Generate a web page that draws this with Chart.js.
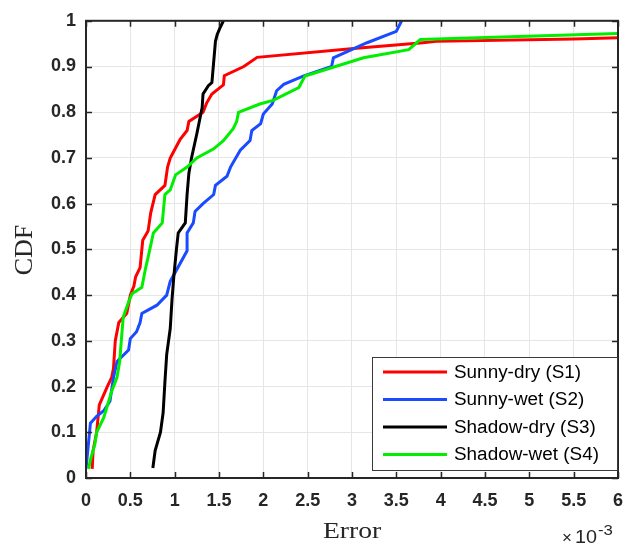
<!DOCTYPE html>
<html>
<head>
<meta charset="utf-8">
<script src="https://cdn.jsdelivr.net/npm/chart.js@4/dist/chart.umd.min.js"></script>
<style>
html,body{margin:0;padding:0;background:#fff;}
#wrap{width:635px;height:545px;}
</style>
</head>
<body>
<div id="wrap"><canvas id="c" width="635" height="545"></canvas></div>
<script>
// ---- data (x in units of 1e-3) ----
const seriesNames = ['Sunny-dry (S1)', 'Sunny-wet (S2)', 'Shadow-dry (S3)', 'Shadow-wet (S4)'];
const seriesColors = ['#ff0000', '#1a4bff', '#000000', '#00ee00'];

const s1x = [0.07,0.08,0.12,0.15,0.24,0.29,0.31,0.33,0.37,0.46,0.50,0.54,0.56,0.61,0.64,0.70,0.73,0.78,0.89,0.92,0.95,1.06,1.14,1.16,1.32,1.36,1.42,1.55,1.56,1.78,1.93,3.05,3.80,3.95,5.50,6.00];
const s1y = [0.02,0.06,0.10,0.16,0.20,0.22,0.24,0.30,0.34,0.36,0.40,0.42,0.44,0.46,0.52,0.54,0.58,0.62,0.64,0.68,0.70,0.74,0.76,0.78,0.80,0.82,0.84,0.86,0.88,0.90,0.92,0.94,0.952,0.955,0.960,0.963];

const s2x = [0.00,0.02,0.05,0.12,0.20,0.27,0.31,0.35,0.48,0.50,0.57,0.61,0.63,0.80,0.91,0.95,1.14,1.14,1.21,1.23,1.32,1.44,1.46,1.59,1.63,1.74,1.85,1.87,1.97,2.00,2.10,2.15,2.23,2.45,2.77,2.79,3.17,3.50,3.56];
const s2y = [0.02,0.06,0.12,0.135,0.147,0.168,0.22,0.255,0.28,0.305,0.32,0.34,0.36,0.378,0.40,0.43,0.497,0.536,0.558,0.583,0.60,0.62,0.64,0.66,0.68,0.717,0.738,0.76,0.775,0.796,0.818,0.847,0.861,0.879,0.90,0.919,0.952,0.977,1.00];

const s3x = [0.754,0.78,0.84,0.87,0.89,0.91,0.95,0.97,0.99,1.02,1.04,1.12,1.14,1.16,1.19,1.25,1.31,1.32,1.38,1.42,1.46,1.48,1.51,1.55];
const s3y = [0.022,0.06,0.10,0.143,0.21,0.27,0.327,0.39,0.44,0.50,0.536,0.558,0.62,0.666,0.70,0.753,0.81,0.84,0.858,0.865,0.955,0.97,0.984,1.00];

const s4x = [0.03,0.05,0.10,0.12,0.20,0.29,0.35,0.38,0.40,0.42,0.48,0.52,0.63,0.67,0.72,0.76,0.86,0.89,0.95,1.01,1.14,1.25,1.44,1.55,1.66,1.70,1.72,1.96,2.11,2.40,2.47,3.13,3.64,3.77,6.00];
const s4y = [0.02,0.04,0.074,0.10,0.132,0.19,0.22,0.255,0.305,0.352,0.385,0.403,0.417,0.457,0.50,0.536,0.558,0.62,0.63,0.663,0.68,0.70,0.72,0.738,0.764,0.78,0.80,0.818,0.826,0.854,0.879,0.919,0.937,0.959,0.972];

const xTicks = [0,0.5,1,1.5,2,2.5,3,3.5,4,4.5,5,5.5,6];
const xTickLabels = ['0','0.5','1','1.5','2','2.5','3','3.5','4','4.5','5','5.5','6'];
const yTicks = [0,0.1,0.2,0.3,0.4,0.5,0.6,0.7,0.8,0.9,1];
const yTickLabels = ['0','0.1','0.2','0.3','0.4','0.5','0.6','0.7','0.8','0.9','1'];
const xTitle = 'Error';
const yTitle = 'CDF';
const xExpTimes = '\u00d7';
const xExpBase = '10';
const xExp = '-3';

// ---- build ----
const allX = [s1x, s2x, s3x, s4x];
const allY = [s1y, s2y, s3y, s4y];
const datasets = seriesNames.map((name, i) => ({
  label: name,
  data: allX[i].map((x, k) => ({x: x, y: allY[i][k]})),
  borderColor: seriesColors[i],
  backgroundColor: seriesColors[i],
  borderWidth: 3,
  pointRadius: 0,
  showLine: true,
  tension: 0,
  fill: false,
  order: 3 - i
}));

const AXC = '#262626';
const tickFont = {family: '"Liberation Sans", Arial, sans-serif', size: 18, weight: 'bold'};

const decor = {
  id: 'decor',
  afterDatasetsDraw(chart) {
    const ctx = chart.ctx;
    const a = chart.chartArea;
    const xs = chart.scales.x, ys = chart.scales.y;
    ctx.save();
    // inner tick marks
    ctx.strokeStyle = AXC;
    ctx.lineWidth = 1.5;
    const tl = 6;
    ctx.beginPath();
    xTicks.forEach(v => {
      const px = Math.round(xs.getPixelForValue(v)) + 0.5;
      ctx.moveTo(px, a.bottom); ctx.lineTo(px, a.bottom - tl);
      ctx.moveTo(px, a.top); ctx.lineTo(px, a.top + tl);
    });
    yTicks.forEach(v => {
      const py = Math.round(ys.getPixelForValue(v)) + 0.5;
      ctx.moveTo(a.left, py); ctx.lineTo(a.left + tl, py);
      ctx.moveTo(a.right, py); ctx.lineTo(a.right - tl, py);
    });
    ctx.stroke();
    // box
    ctx.lineWidth = 2;
    ctx.strokeRect(a.left, a.top, a.right - a.left, a.bottom - a.top);

    // legend
    const lx0 = 372, ly0 = 357, lw = 245, lh = 113;
    ctx.fillStyle = '#ffffff';
    ctx.fillRect(lx0, ly0, lw, lh);
    ctx.strokeStyle = '#3a3a3a';
    ctx.lineWidth = 1;
    ctx.strokeRect(lx0 + 0.5, ly0 + 0.5, lw, lh);
    ctx.font = '18px "Liberation Sans", Arial, sans-serif';
    ctx.textBaseline = 'middle';
    ctx.textAlign = 'left';
    seriesNames.forEach((name, i) => {
      const ry = 372 + i * 27.5;
      ctx.strokeStyle = seriesColors[i];
      ctx.lineWidth = 3;
      ctx.beginPath();
      ctx.moveTo(383, ry); ctx.lineTo(447, ry);
      ctx.stroke();
      ctx.fillStyle = '#000';
      ctx.save();
      ctx.translate(454, ry + 1);
      ctx.scale(1.05, 1);
      ctx.fillText(name, 0, 0);
      ctx.restore();
    });

    // axis titles
    ctx.fillStyle = AXC;
    ctx.textAlign = 'center';
    ctx.textBaseline = 'middle';
    ctx.font = '24px "Liberation Serif", "Times New Roman", serif';
    ctx.save();
    ctx.translate(352, 532);
    ctx.scale(1.15, 1);
    ctx.fillText(xTitle, 0, 0);
    ctx.restore();
    ctx.font = '26px "Liberation Serif", "Times New Roman", serif';
    ctx.save();
    ctx.translate(25, 250);
    ctx.rotate(-Math.PI / 2);
    ctx.fillText(yTitle, 0, 0);
    ctx.restore();

    // exponent
    ctx.textAlign = 'left';
    ctx.textBaseline = 'alphabetic';
    ctx.font = '17px "Liberation Sans", Arial, sans-serif';
    ctx.fillText(xExpTimes, 562, 543);
    ctx.font = '18px "Liberation Sans", Arial, sans-serif';
    ctx.save();
    ctx.translate(575, 543);
    ctx.scale(1.1, 1);
    ctx.fillText(xExpBase, 0, 0);
    ctx.restore();
    ctx.font = '14px "Liberation Sans", Arial, sans-serif';
    ctx.save();
    ctx.translate(598, 535);
    ctx.scale(1.2, 1);
    ctx.fillText(xExp, 0, 0);
    ctx.restore();
    ctx.restore();
  }
};

new Chart(document.getElementById('c'), {
  type: 'scatter',
  data: {datasets: datasets},
  options: {
    responsive: false,
    animation: false,
    devicePixelRatio: 1,
    layout: {padding: {top: 16, right: 17, left: 0, bottom: 0}},
    plugins: {legend: {display: false}, tooltip: {enabled: false}},
    scales: {
      x: {
        type: 'linear', min: 0, max: 6,
        afterBuildTicks: s => { s.ticks = xTicks.map(v => ({value: v})); },
        afterFit: s => { s.height = 67; },
        ticks: {
          callback: (v) => xTickLabels[xTicks.indexOf(v)],
          color: AXC, font: tickFont, padding: 12, maxRotation: 0, autoSkip: false
        },
        grid: {color: '#e6e6e6', lineWidth: 1, drawTicks: false},
        border: {display: false}
      },
      y: {
        type: 'linear', min: 0, max: 1,
        afterBuildTicks: s => { s.ticks = yTicks.map(v => ({value: v})); },
        afterFit: s => { s.width = 86; },
        ticks: {
          callback: (v) => { const k = yTicks.findIndex(t => Math.abs(t - v) < 1e-9); return k >= 0 ? yTickLabels[k] : ''; },
          color: AXC, font: tickFont, padding: 10, autoSkip: false
        },
        grid: {color: '#e6e6e6', lineWidth: 1, drawTicks: false},
        border: {display: false}
      }
    }
  },
  plugins: [decor]
});
</script>
</body>
</html>
